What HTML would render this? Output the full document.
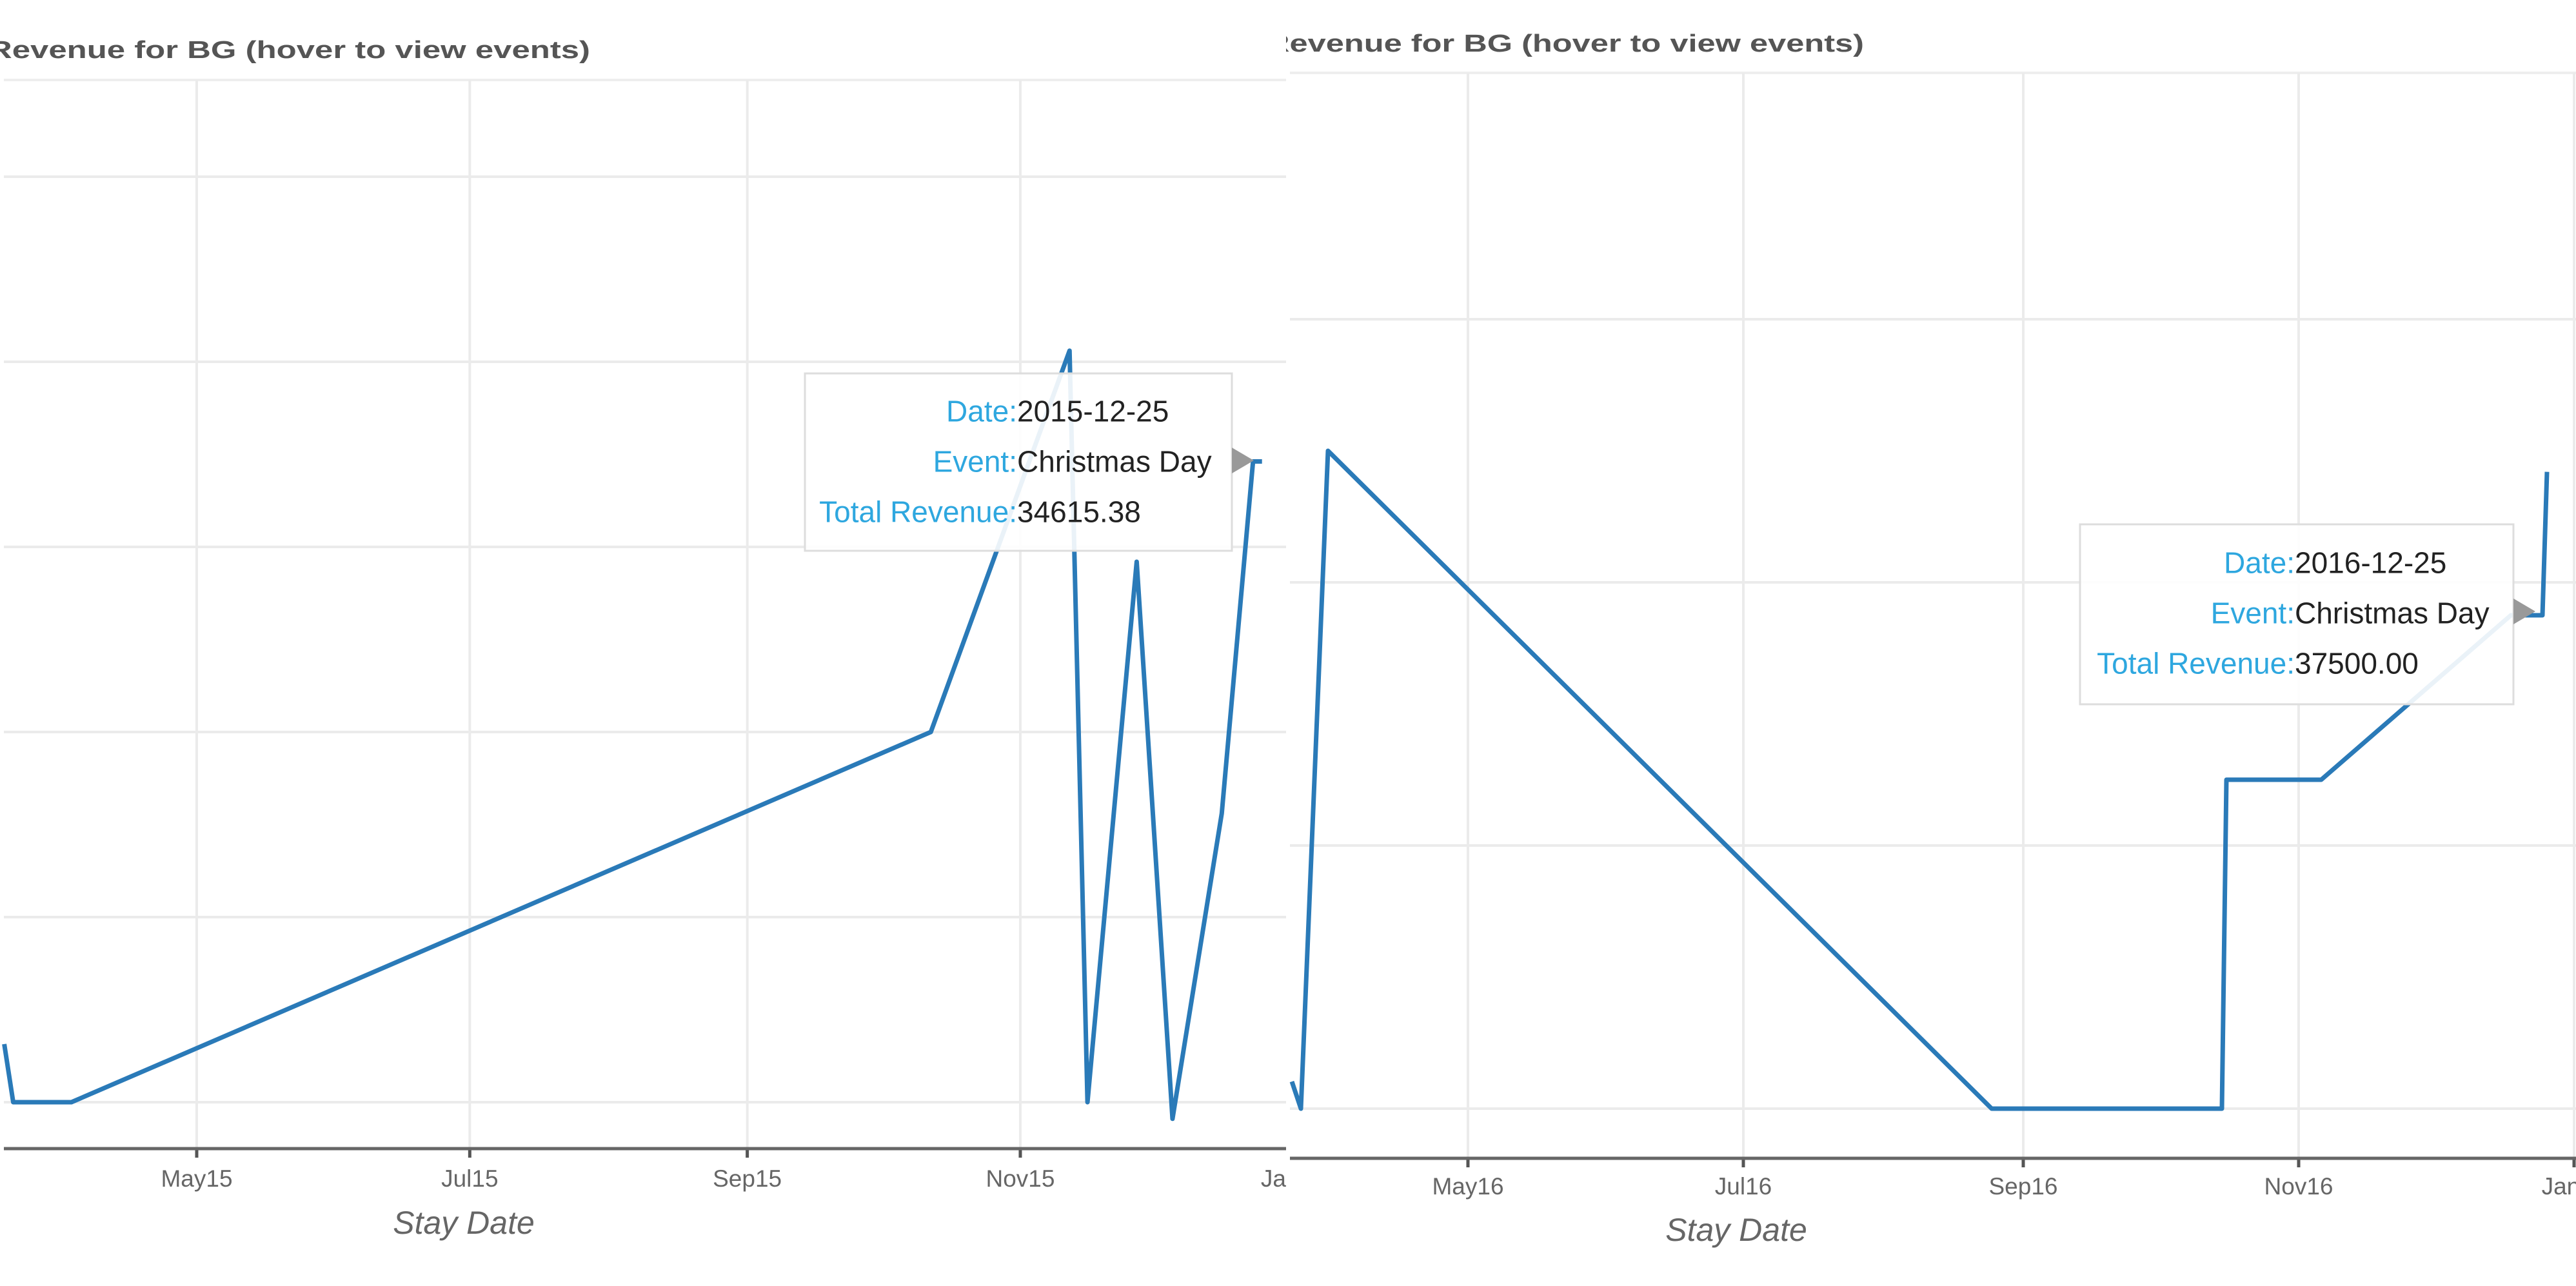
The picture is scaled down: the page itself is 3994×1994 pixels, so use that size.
<!DOCTYPE html>
<html><head><meta charset="utf-8"><style>
html,body{margin:0;padding:0;background:#fff;}
svg{display:block;font-family:"Liberation Sans",Arial,sans-serif;}
</style></head><body>
<svg id="chart" width="3994" height="1994" viewBox="0 0 3994 1994" xmlns="http://www.w3.org/2000/svg">
<defs>
<clipPath id="clipL"><rect x="0" y="0" width="1994" height="1994"/></clipPath>
<clipPath id="clipR"><rect x="1994" y="0" width="2000" height="1994"/></clipPath>
</defs>
</svg>
<script>
// Left chart (2015) data
const datesL = ["2015-03-19","2015-03-21","2015-04-03","2015-10-12","2015-11-12","2015-11-16","2015-11-27","2015-12-05","2015-12-16","2015-12-23","2015-12-25"];
const revenueL = [3140,0,0,20000,40600,0,29200,-900,15600,34615.38,34615.38];
const xTickDatesL = ["2015-05-01","2015-07-01","2015-09-01","2015-11-01","2016-01-01"];
const xTickLabelsL = ["May15","Jul15","Sep15","Nov15","Jan16"];
const yTicksL = [0,10000,20000,30000,40000,50000];
// Right chart (2016) data
const datesR = ["2016-03-23","2016-03-25","2016-03-31","2016-08-25","2016-10-15","2016-10-16","2016-11-06","2016-12-18","2016-12-25","2016-12-26"];
const revenueR = [2060,0,50000,0,0,25000,25000,37500,37500,48400];
const xTickDatesR = ["2016-05-01","2016-07-01","2016-09-01","2016-11-01","2017-01-01"];
const xTickLabelsR = ["May16","Jul16","Sep16","Nov16","Jan17"];
const yTicksR = [0,20000,40000,60000];

const NS="http://www.w3.org/2000/svg";
const svg=document.getElementById('chart');
function mk(tag,attrs,parent){const e=document.createElementNS(NS,tag);for(const k in attrs)e.setAttribute(k,attrs[k]);parent.appendChild(e);return e;}
const day=86400000;
function draw(cfg){
  const g=mk('g',{'clip-path':'url(#'+cfg.clip+')'},svg);
  
  
  const t0=Date.parse(cfg.refDate);
  const xs=d=>cfg.refX+(Date.parse(d)-t0)/day*cfg.pxDay;
  const ys=v=>cfg.y0-v/cfg.step*cfg.stepPx;
  const title=mk('text',{x:cfg.titleX,y:cfg.titleY,'font-size':38,'font-weight':'bold',fill:'#555',textLength:cfg.titleLen,lengthAdjust:'spacingAndGlyphs'},g);
  title.textContent="Revenue for BG (hover to view events)";
  
  
  const tb=mk('line',{x1:cfg.left,x2:cfg.right,y1:cfg.top,y2:cfg.top,stroke:'#eee','stroke-width':4},g);
  
  
  cfg.yTicks.forEach(v=>{
    const l=mk('line',{x1:cfg.left,x2:cfg.right,y1:ys(v),y2:ys(v),stroke:'#ebebeb','stroke-width':4},g);
    
    
  });
  cfg.xTicks.forEach((d,i)=>{
    const x=xs(d);
    const l=mk('line',{x1:x,x2:x,y1:cfg.top,y2:cfg.axisY,stroke:'#ebebeb','stroke-width':4},g);
    
    
    const tk=mk('line',{x1:x,x2:x,y1:cfg.axisY,y2:cfg.axisY+14,stroke:'#555','stroke-width':5},g);
    
    
    const tx=mk('text',{x:x,y:cfg.tickY,'font-size':37,fill:'#666','text-anchor':'middle'},g);
    tx.textContent=cfg.xLabels[i];
    
    
  });
  const ax=mk('line',{x1:cfg.left,x2:cfg.right,y1:cfg.axisY,y2:cfg.axisY,stroke:'#666','stroke-width':5},g);
  
  
  const at=mk('text',{x:cfg.xTitleX,y:cfg.xTitleY,'font-size':50,'font-style':'italic',fill:'#666','text-anchor':'middle'},g);
  at.textContent="Stay Date";
  
  
  const pts=cfg.dates.map((d,i)=>xs(d).toFixed(1)+','+ys(cfg.vals[i]).toFixed(1)).join(' ');
  const pl=mk('polyline',{points:pts,fill:'none',stroke:'#2a7ab8','stroke-width':7,'stroke-linejoin':'round'},g);
  
  
  const tt=mk('g',{},g);
  
  
  const b=cfg.tip;
  mk('rect',{x:b.x,y:b.y,width:b.w,height:b.h,fill:'#fff','fill-opacity':0.9,stroke:'#ddd','stroke-width':3},tt);
  mk('polygon',{points:(b.x+b.w)+','+(b.ay-20)+' '+(b.x+b.w+34)+','+b.ay+' '+(b.x+b.w)+','+(b.ay+20),fill:'#999'},tt);
  b.rows.forEach((r,i)=>{
    const y=b.y+b.h*0.27+i*78;
    const lt=mk('text',{x:b.cx,y:y,'font-size':46,fill:'#2ea7df','text-anchor':'end'},tt);
    lt.textContent=r[0]+':';
    const vt=mk('text',{x:b.cx,y:y,'font-size':46,fill:'#222'},tt);
    vt.textContent=r[1];
  });
}
draw({name:'chart-2015',clip:'clipL',refDate:'2015-05-01',refX:305,pxDay:6.94,y0:1709,step:10000,stepPx:287,
  left:6,right:1994,top:124,axisY:1781,tickY:1840,xTitleX:719,xTitleY:1913,titleX:-18,titleY:90,titleLen:933,
  dates:datesL,vals:revenueL,xTicks:xTickDatesL,xLabels:xTickLabelsL,yTicks:yTicksL,
  tip:{x:1248,y:579,w:662,h:275,ay:714,cx:1577,rows:[['Date','2015-12-25'],['Event','Christmas Day'],['Total Revenue','34615.38']]}});
draw({name:'chart-2016',clip:'clipR',refDate:'2016-05-01',refX:2276,pxDay:7.0,y0:1719,step:20000,stepPx:408,
  left:2000,right:3994,top:113,axisY:1796,tickY:1852,xTitleX:2692,xTitleY:1924,titleX:1963,titleY:80,titleLen:927,
  dates:datesR,vals:revenueR,xTicks:xTickDatesR,xLabels:xTickLabelsR,yTicks:yTicksR,
  tip:{x:3225,y:813,w:672,h:279,ay:948,cx:3558,rows:[['Date','2016-12-25'],['Event','Christmas Day'],['Total Revenue','37500.00']]}});
</script>
</body></html>
